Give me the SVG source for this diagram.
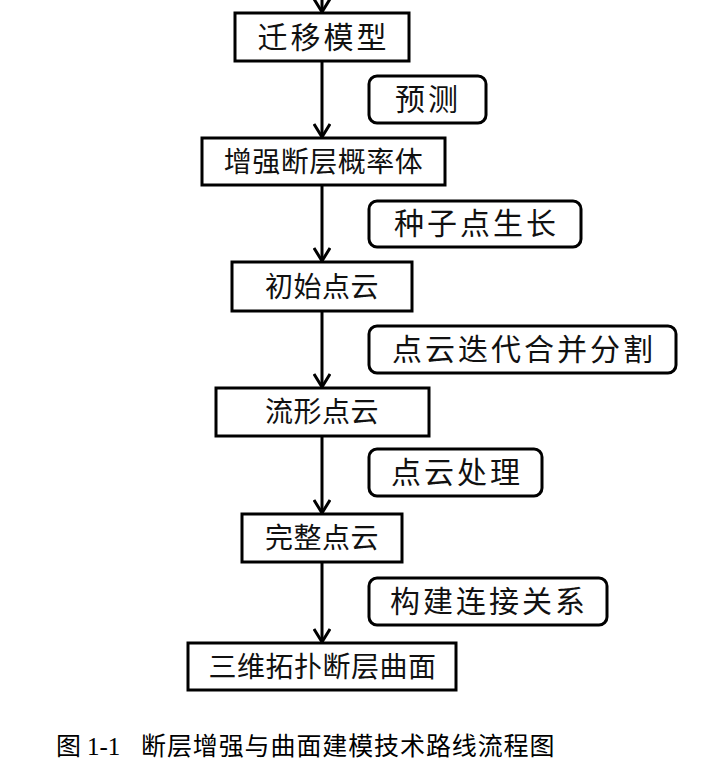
<svg xmlns="http://www.w3.org/2000/svg" width="716" height="769" viewBox="0 0 716 769">
<style>
.box{fill:#fff;stroke:#000;stroke-width:3}
.side{fill:#fff;stroke:#000;stroke-width:3}
.t{font-family:"Noto Sans CJK SC","Noto Sans",sans-serif;fill:#111;text-anchor:middle}
.m{font-size:28px;letter-spacing:0.5px}
.s{font-size:30px;letter-spacing:3px}
.c{stroke:#000;stroke-width:3;fill:none}
.cap{font-family:"Liberation Serif","Noto Sans CJK SC",serif;font-size:25px;fill:#000}
.cj{font-family:"Noto Sans CJK SC",sans-serif;letter-spacing:0.9px}
</style>
<defs>
<marker id="ah" markerUnits="userSpaceOnUse" viewBox="0 0 16 18" markerWidth="16" markerHeight="18" refX="14" refY="9" orient="auto">
<path d="M1,1 L14,9 L1,17" fill="none" stroke="#000" stroke-width="3"/>
</marker>
</defs>
<rect width="716" height="769" fill="#fff"/>
<g id="connectors">
<line class="c" x1="322" y1="-5" x2="322" y2="12" marker-end="url(#ah)"/>
<line class="c" x1="322" y1="61" x2="322" y2="137" marker-end="url(#ah)"/>
<line class="c" x1="322" y1="185" x2="322" y2="261" marker-end="url(#ah)"/>
<line class="c" x1="322" y1="311" x2="322" y2="387" marker-end="url(#ah)"/>
<line class="c" x1="322" y1="437" x2="322" y2="513" marker-end="url(#ah)"/>
<line class="c" x1="322" y1="563" x2="322" y2="642" marker-end="url(#ah)"/>
</g>
<g id="n1"><rect class="box" x="235" y="13" width="174" height="48"/><text class="t s" x="323.5" y="48">迁移模型</text></g>
<g id="l1"><rect class="side" x="369" y="76" width="117" height="47" rx="8"/><text class="t s" x="428" y="110">预测</text></g>
<g id="n2"><rect class="box" x="202" y="138" width="243" height="47"/><text class="t m" x="323.5" y="172">增强断层概率体</text></g>
<g id="l2"><rect class="side" x="369" y="201" width="212" height="46" rx="8"/><text class="t s" x="476.5" y="234">种子点生长</text></g>
<g id="n3"><rect class="box" x="232" y="262" width="180" height="49"/><text class="t m" x="322" y="297">初始点云</text></g>
<g id="l3"><rect class="side" x="369" y="326" width="307" height="47" rx="8"/><text class="t s" x="524" y="360">点云迭代合并分割</text></g>
<g id="n4"><rect class="box" x="216" y="388" width="213" height="48"/><text class="t m" x="322" y="422">流形点云</text></g>
<g id="l4"><rect class="side" x="369" y="449" width="173" height="47" rx="8"/><text class="t s" x="457" y="483">点云处理</text></g>
<g id="n5"><rect class="box" x="242" y="514" width="160" height="48"/><text class="t m" x="322" y="548">完整点云</text></g>
<g id="l5"><rect class="side" x="369" y="578" width="238" height="47" rx="8"/><text class="t s" x="489" y="612">构建连接关系</text></g>
<g id="n6"><rect class="box" x="188" y="643" width="268" height="47"/><text class="t m" x="322.5" y="677">三维拓扑断层曲面</text></g>
<text class="cap" y="755"><tspan class="cj" x="56">图</tspan><tspan x="87">1-1</tspan><tspan class="cj" x="141">断层增强与曲面建模技术路线流程图</tspan></text>
</svg>
